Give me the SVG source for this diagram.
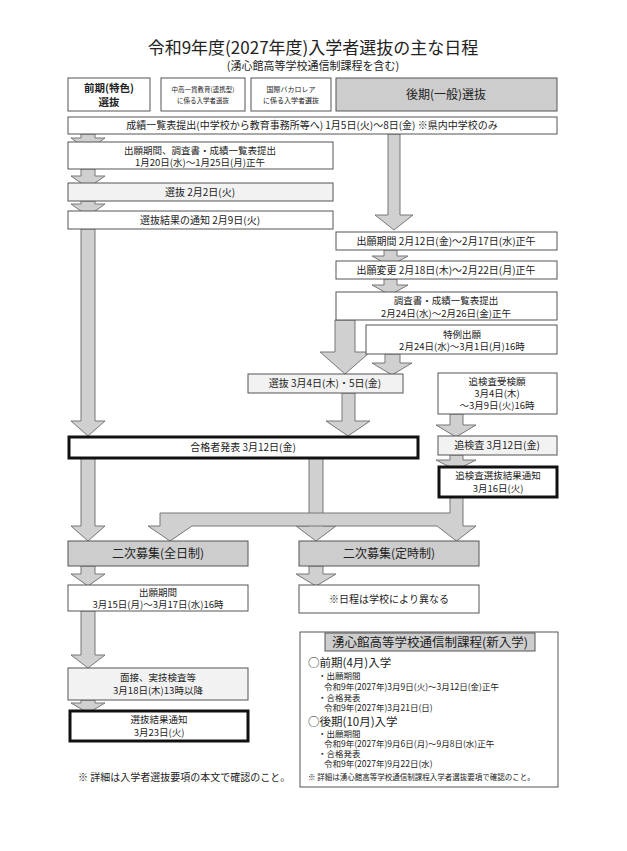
<svg xmlns="http://www.w3.org/2000/svg" width="627" height="851" viewBox="0 0 627 851">
<style>
text{font-family:"Noto Sans CJK JP","Liberation Sans",sans-serif;fill:#222;font-size:10px}
.c{text-anchor:middle}
.s{font-size:9.5px}
.b{fill:#fff;stroke:#555;stroke-width:1}
.l{fill:#f2f2f2;stroke:#555;stroke-width:1}
.g{fill:#cdcdcd;stroke:#555;stroke-width:1}
.t{fill:#fff;stroke:#111;stroke-width:3}
.a{fill:#d0d0d0;stroke:#777;stroke-width:1}
</style>
<rect width="627" height="851" fill="#fff"/>
<text x="313" y="54" class="c" style="font-size:17px">令和9年度(2027年度)入学者選抜の主な日程</text>
<text x="313" y="70" class="c" style="font-size:11px">(湧心館高等学校通信制課程を含む)</text>
<g id="connectors">
<path class="a" d="M81,134H95V138H105L88,150L71,138H81Z"/>
<path class="a" d="M81,169H95V176H105L88,188L71,176H81Z"/>
<path class="a" d="M81,201H95V204H105L88,216L71,204H81Z"/>
<path class="a" d="M81,229H95V421H105L88,436L71,421H81Z"/>
<path class="a" d="M388,134H400V215H413L394,230L375,215H388Z"/>
<path class="a" d="M384,250H397V256H408L390,266L372,256H384Z"/>
<path class="a" d="M384,279H397V285H408L390,295L372,285H384Z"/>
<path class="a" d="M335,320H355V352H370L345,374L320,352H335Z"/>
<path class="a" d="M385,354H400V363H412L392,375L372,363H385Z"/>
<path class="a" d="M342,393H355V421H370L348,436L326,421H342Z"/>
<path class="a" d="M450,414H463V425H476L456,437L436,425H450Z"/>
<path class="a" d="M450,455H463V460H476L456,470L436,460H450Z"/>
<path class="a" d="M81,458H95V526H105L88,541L71,526H81Z"/>
<path class="a" d="M309,458H323V526H336L316,541L296,526H309Z"/>
<path class="a" d="M450,497H463V526H476L456.5,541L437,526H192L170,541L148,526H160V513H450Z"/>
<path class="a" d="M81,566H95V574H105L88,586L71,574H81Z"/>
<path class="a" d="M309,566H323V574H336L316,586L296,574H309Z"/>
<path class="a" d="M81,611H95V655H105L88,668L71,655H81Z"/>
<path class="a" d="M81,700H95V703H105L88,713L71,703H81Z"/>
</g>
<g id="h1"><rect class="b" x="68" y="78" width="82" height="33"/><text x="109" y="92" class="c" style="font-size:10.5px;font-weight:bold">前期(特色)</text><text x="109" y="106" class="c" style="font-size:10.5px;font-weight:bold">選抜</text></g>
<g id="h2"><rect class="b" x="161" y="78" width="84" height="33"/><text x="203" y="92" class="c" style="font-size:6.5px">中高一貫教育(連携型)</text><text x="203" y="103" class="c" style="font-size:6.5px">に係る入学者選抜</text></g>
<g id="h3"><rect class="b" x="251" y="78" width="80" height="33"/><text x="291" y="92" class="c" style="font-size:7px">国際バカロレア</text><text x="291" y="103" class="c" style="font-size:7px">に係る入学者選抜</text></g>
<g id="h4"><rect class="g" x="336" y="78" width="221" height="33"/><text x="446" y="99" class="c" style="font-size:12px">後期(一般)選抜</text></g>
<g id="n1"><rect class="b" x="68" y="117" width="489" height="17"/><text x="312" y="129" class="c">成績一覧表提出(中学校から教育事務所等へ)  1月5日(火)～8日(金)  ※県内中学校のみ</text></g>
<g id="n2"><rect class="b" x="68" y="142" width="265" height="27"/><text x="200" y="154" class="c s">出願期間、調査書・成績一覧表提出</text><text x="200" y="166" class="c s">1月20日(水)～1月25日(月)正午</text></g>
<g id="n3"><rect class="l" x="68" y="183" width="265" height="18"/><text x="200" y="196" class="c">選抜  2月2日(火)</text></g>
<g id="n4"><rect class="b" x="68" y="211" width="265" height="18"/><text x="200" y="224" class="c">選抜結果の通知  2月9日(火)</text></g>
<g id="n5"><rect class="b" x="336" y="232" width="221" height="18"/><text x="446" y="245" class="c">出願期間  2月12日(金)～2月17日(水)正午</text></g>
<g id="n6"><rect class="b" x="336" y="261" width="221" height="18"/><text x="446" y="274" class="c">出願変更  2月18日(木)～2月22日(月)正午</text></g>
<g id="n7"><rect class="b" x="336" y="292" width="221" height="28"/><text x="446" y="304" class="c s">調査書・成績一覧表提出</text><text x="446" y="317" class="c s">2月24日(水)～2月26日(金)正午</text></g>
<g id="n8"><rect class="b" x="366" y="325" width="191" height="29"/><text x="462" y="338" class="c s">特例出願</text><text x="462" y="350" class="c s">2月24日(水)～3月1日(月)16時</text></g>
<g id="n9"><rect class="l" x="248" y="374" width="155" height="19"/><text x="325" y="387" class="c">選抜  3月4日(木)・5日(金)</text></g>
<g id="n10"><rect class="b" x="438" y="373" width="119" height="41"/><text x="497" y="385" class="c s">追検査受検願</text><text x="497" y="397" class="c s">3月4日(木)</text><text x="497" y="409" class="c s">～3月9日(火)16時</text></g>
<g id="n11"><rect class="t" x="69" y="437" width="349" height="21"/><text x="243" y="451" class="c">合格者発表  3月12日(金)</text></g>
<g id="n12"><rect class="l" x="438" y="436" width="119" height="19"/><text x="497" y="449" class="c">追検査  3月12日(金)</text></g>
<g id="n13"><rect class="t" x="439" y="467" width="118" height="30"/><text x="498" y="479" class="c s">追検査選抜結果通知</text><text x="498" y="492" class="c s">3月16日(火)</text></g>
<g id="n14"><rect class="g" x="68" y="541" width="180" height="25"/><text x="158" y="558" class="c" style="font-size:12px">二次募集(全日制)</text></g>
<g id="n15"><rect class="g" x="299" y="541" width="180" height="25"/><text x="389" y="558" class="c" style="font-size:12px">二次募集(定時制)</text></g>
<g id="n16"><rect class="b" x="68" y="585" width="180" height="26"/><text x="158" y="596" class="c s">出願期間</text><text x="158" y="608" class="c s">3月15日(月)～3月17日(水)16時</text></g>
<g id="n17"><rect class="b" x="299" y="585" width="180" height="28"/><text x="389" y="603" class="c">※日程は学校により異なる</text></g>
<g id="n18"><rect class="l" x="68" y="668" width="180" height="32"/><text x="158" y="681" class="c s">面接、実技検査等</text><text x="158" y="694" class="c s">3月18日(木)13時以降</text></g>
<g id="n19"><rect class="t" x="70" y="711" width="178" height="30"/><text x="159" y="723" class="c s">選抜結果通知</text><text x="159" y="736" class="c s">3月23日(火)</text></g>
<text x="78" y="781">※  詳細は入学者選抜要項の本文で確認のこと。</text>
<g id="tsushin">
<rect class="b" x="300" y="632" width="258" height="155"/>
<rect class="g" x="325" y="633" width="210" height="18"/>
<text x="430" y="647" class="c" style="font-size:12.5px">湧心館高等学校通信制課程(新入学)</text>
<text x="308" y="667" style="font-size:11.5px">○前期(4月)入学</text>
<text x="318" y="679" style="font-size:8.5px">・出願期間</text>
<text x="324" y="690" style="font-size:8.5px">令和9年(2027年)3月9日(火)～3月12日(金)正午</text>
<text x="318" y="701" style="font-size:8.5px">・合格発表</text>
<text x="324" y="711" style="font-size:8.5px">令和9年(2027年)3月21日(日)</text>
<text x="308" y="726" style="font-size:11.5px">○後期(10月)入学</text>
<text x="318" y="737" style="font-size:8.5px">・出願期間</text>
<text x="324" y="747" style="font-size:8.5px">令和9年(2027年)9月6日(月)～9月8日(水)正午</text>
<text x="318" y="757" style="font-size:8.5px">・合格発表</text>
<text x="324" y="767" style="font-size:8.5px">令和9年(2027年)9月22日(水)</text>
<text x="308" y="780" style="font-size:7.5px">※  詳細は湧心館高等学校通信制課程入学者選抜要項で確認のこと。</text>
</g>
</svg>
